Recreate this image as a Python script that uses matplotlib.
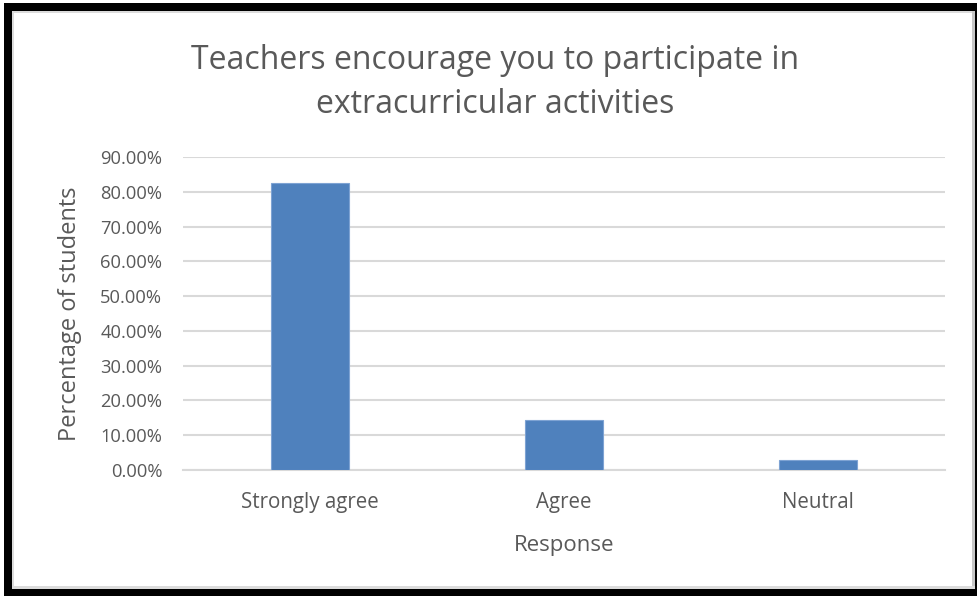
import matplotlib
matplotlib.use("Agg")
import matplotlib.pyplot as plt
from matplotlib.patches import Rectangle
from matplotlib.ticker import FuncFormatter

# Survey response shares
responses = ["Strongly agree", "Agree", "Neutral"]
shares = [0.8261, 0.1449, 0.0290]
y_ticks = [0.0, 0.1, 0.2, 0.3, 0.4, 0.5, 0.6, 0.7, 0.8, 0.9]

plt.rcParams["font.family"] = ["Open Sans", "DejaVu Sans"]
text_color = "#595959"
W, H = 977, 596

fig = plt.figure(figsize=(W / 100, H / 100), dpi=100)
ax = fig.add_axes([183 / W, 1 - 470 / H, (945 - 183) / W, (470 - 157) / H])

x = range(len(responses))
ax.bar(x, shares, width=0.31, color="#4f81bd", edgecolor="#7ea3d3",
       linewidth=0.8, zorder=3)

ax.set_xlim(-0.5, len(responses) - 0.5)
ax.set_ylim(0, 0.9)
ax.set_yticks(y_ticks)
ax.yaxis.set_major_formatter(FuncFormatter(lambda v, _: f"{v * 100:.2f}%"))
ax.set_xticks(list(x))
ax.set_xticklabels(responses)
ax.grid(axis="y", color="#d9d9d9", linewidth=1.5, zorder=0)
for side in ["top", "right", "left"]:
    ax.spines[side].set_visible(False)
ax.spines["bottom"].set_color("#d9d9d9")
ax.spines["bottom"].set_linewidth(1.5)
ax.tick_params(length=0, colors=text_color)
ax.tick_params(axis="y", labelsize=13.2, pad=15)
ax.tick_params(axis="x", labelsize=14.8, pad=16)

ax.set_xlabel("Response", fontsize=16, color=text_color, labelpad=16)
ax.set_ylabel("Percentage of students", fontsize=17, color=text_color, labelpad=13)

fig.text(0.507, 0.862, "Teachers encourage you to participate in\nextracurricular activities",
         ha="center", va="center", fontsize=23, color=text_color, linespacing=1.45)


def px_rect(x0, y0, x1, y1, color):
    # rectangle given in image pixels (origin at top left)
    fig.patches.append(Rectangle((x0 / W, 1 - y1 / H), (x1 - x0) / W, (y1 - y0) / H,
                                 transform=fig.transFigure, facecolor=color,
                                 edgecolor="none", zorder=10))


# Black frame around the figure, with a thin grey inner edge
px_rect(12, 11, 975, 13, "#dcdcdc")
px_rect(12, 11, 14, 589, "#dcdcdc")
px_rect(972, 11, 975, 589, "#c8c8c8")
px_rect(12, 586, 975, 589, "#dcdcdc")
px_rect(4, 3, 977, 11, "black")
px_rect(4, 3, 12, 596, "black")
px_rect(975, 3, 977, 596, "black")
px_rect(4, 589, 977, 596, "black")

fig.savefig("out.png", dpi=100)
